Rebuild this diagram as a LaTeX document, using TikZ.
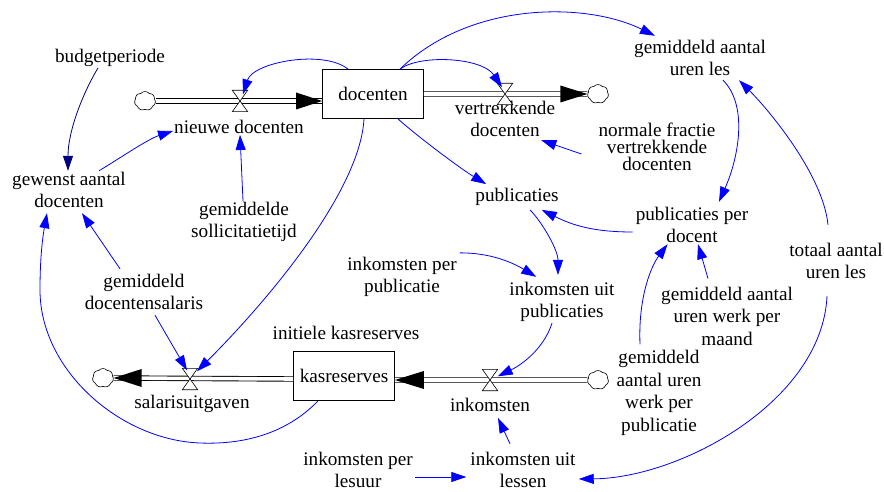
\documentclass[tikz,border=0pt]{standalone}
\usepackage{fontspec}
\setmainfont{Liberation Serif}
\usetikzlibrary{arrows.meta,shapes.symbols}
\definecolor{lnk}{RGB}{0,0,255}
\definecolor{navylnk}{RGB}{0,0,128}
\tikzset{
 lbl/.style={align=center, inner sep=1pt, font=\fontsize{19.2}{22.5}\selectfont},
 tightlbl/.style={align=center, inner sep=1pt, font=\fontsize{19.2}{17}\selectfont},
 stock/.style={draw, line width=0.8pt, fill=white, minimum width=101pt, minimum height=49pt, inner sep=0pt, font=\fontsize{19.2}{22.5}\selectfont},
 valve/.style={inner sep=0pt, minimum width=15pt, minimum height=21pt},
 valveshape/.style={draw, fill=white, line width=0.6pt, line join=miter},
 srccloud/.style={cloud, cloud puffs=7, cloud puff arc=100, aspect=1.05, draw, fill=white, line width=0.6pt, inner sep=0pt, minimum width=21pt, minimum height=19pt},
 pipe/.style={draw, line width=0.9pt, double=white, double distance=3.6pt},
 flowtip/.style={fill=black},
 link/.style={draw=lnk, line width=0.8pt, -{Triangle[length=15pt,width=10pt]}},
}
\begin{document}
\begin{tikzpicture}[x=1pt,y=-1pt]
\useasboundingbox (0,0) rectangle (884,492);
% labels
\node[lbl] (budget) at (110,58) {budgetperiode};
\node[lbl] (gewenst) at (69,190) {gewenst aantal\\docenten};
\node[lbl] (nieuwe) at (239,127) {nieuwe docenten};
\node[lbl] (sollic) at (244,222) {gemiddelde\\sollicitatietijd};
\node[lbl] (vertrek) at (505,119) {vertrekkende\\docenten};
\node[lbl] (gaul) at (700,58) {gemiddeld aantal\\uren les};
\node[tightlbl] (normale) at (657,147) {normale fractie\\vertrekkende\\docenten};
\node[lbl] (publ) at (517,197) {publicaties};
\node[lbl] (ppd) at (692,225) {publicaties per\\docent};
\node[lbl] (totaal) at (836,261) {totaal aantal\\uren les};
\node[lbl] (ipp) at (402,277) {inkomsten per\\publicatie};
\node[lbl] (iup) at (562,302) {inkomsten uit\\publicaties};
\node[lbl] (gauwpm) at (727,316) {gemiddeld aantal\\uren werk per\\maand};
\node[lbl] (gauwpp) at (659,393) {gemiddeld\\aantal uren\\werk per\\publicatie};
\node[lbl] (salaris) at (144,292) {gemiddeld\\docentensalaris};
\node[lbl] (initiele) at (346,333) {initiele kasreserves};
\node[lbl] (salu) at (192,404) {salarisuitgaven};
\node[lbl] (inkomsten) at (490,405) {inkomsten};
\node[lbl] (iul) at (523,470) {inkomsten uit\\lessen};
\node[lbl] (ipl) at (358,470) {inkomsten per\\lesuur};
% stocks, valves, clouds
\node[valve] (nv) at (240,101) {};
\node[valve] (vv) at (505,94) {};
\node[valve] (sv) at (190,379) {};
\node[valve] (iv) at (490,380) {};
\node[srccloud] (c1) at (145,101) {};
\node[srccloud] (c2) at (598,94) {};
\node[srccloud] (c3) at (103,378) {};
\node[srccloud] (c4) at (598,380) {};
\node[stock] (docenten) at (373,94) {docenten};
\node[stock] (kas) at (344,376) {kasreserves};
% pipes
\draw[pipe] (c1.east) -- (docenten.west |- c1.east);
\fill[flowtip] (docenten.west |- c1.east) -- ++(-26,-8.5) -- ++(0,17) -- cycle;
\draw[pipe] (docenten.east |- vv.center) -- (c2.west);
\fill[flowtip] (c2.west) -- ++(-27,-8.5) -- ++(0,17) -- cycle;
\draw[pipe] (kas.west |- sv.center) -- (c3.east);
\fill[flowtip] (c3.east) -- ++(28,-9) -- ++(0,18) -- cycle;
\draw[pipe] (c4.west) -- (kas.east |- iv.center);
\fill[flowtip] (kas.east |- iv.center) -- ++(29,-9) -- ++(0,18) -- cycle;
\foreach \v in {nv,vv,sv,iv}
  \draw[valveshape] (\v.north west) -- (\v.north east) -- (\v.south west) -- (\v.south east) -- cycle;
% links
\draw[link, draw=navylnk] ([xshift=-12pt]budget.south) .. controls +(-15,25) and +(0,-40) .. ([xshift=-1pt]gewenst.north);
\draw[link] ([xshift=-28pt]gewenst.north east) .. controls +(20,-12) and +(-25,8) .. ([yshift=-4pt]nieuwe.west);
\draw[link] ([xshift=-1pt]sollic.north) -- ([xshift=1pt]nieuwe.south);
\draw[link] ([xshift=-25pt]docenten.north) .. controls +(-25,-20) and +(10,-32) .. ([xshift=3pt,yshift=-4pt]nv.north);
\draw[link] ([xshift=27pt]docenten.north) .. controls +(20,-15) and +(-20,-30) .. ([xshift=-3pt,yshift=-4pt]vv.north);
\draw[link] ([xshift=27pt]docenten.north) .. controls +(70,-68) and +(-69,-34) .. ([xshift=22pt,yshift=3pt]gaul.north west);
\draw[link] ([xshift=25pt]docenten.south) .. controls +(20,18) and +(-25,-15) .. ([xshift=12pt,yshift=3pt]publ.north west);
\draw[link] ([xshift=-9pt]docenten.south) .. controls +(-4,72) and +(72,-72) .. ([xshift=7pt,yshift=-3pt]sv.north);
\draw[link] ([xshift=-16pt,yshift=-7pt]normale.west) -- ([xshift=-15pt,yshift=-2pt]vertrek.south east);
\draw[link] ([xshift=23pt,yshift=-3pt]gaul.south) .. controls +(25,25) and +(20,-45) .. ([xshift=27pt,yshift=4pt]ppd.north);
\draw[link] ([xshift=-8pt,yshift=17pt]totaal.north) .. controls +(-5,-50) and +(30,30) .. ([xshift=-28pt,yshift=-3pt]gaul.south east);
\draw[link] ([xshift=-9pt,yshift=-16pt]totaal.south) .. controls +(-5,105) and +(102,-1) .. ([xshift=2pt,yshift=-9pt]iul.east);
\draw[link] ([xshift=-2pt,yshift=-7pt]ppd.west) .. controls +(-40,0) and +(30,15) .. ([xshift=-18pt,yshift=-3pt]publ.south east);
\draw[link] ([xshift=13pt,yshift=-3pt]publ.south) .. controls +(12,12) and +(0,-25) .. ([xshift=-4pt,yshift=6pt]iup.north);
\draw[link] ([xshift=2pt,yshift=3pt]ipp.north east) .. controls +(30,0) and +(-25,-15) .. ([xshift=28pt,yshift=4pt]iup.north west);
\draw[link] ([xshift=-10pt]iup.south) .. controls +(-8,25) and +(25,-12) .. ([yshift=-7pt]iv.north east);
\draw[link] ([xshift=-19pt,yshift=7pt]gauwpm.north) -- ([xshift=6pt]ppd.south);
\draw[link] ([xshift=-19pt,yshift=5pt]gauwpp.north) .. controls +(-2,-50) and +(-15,20) .. ([xshift=33pt]ppd.south west);
\draw[link] ([xshift=-13pt,yshift=7pt]iul.north) -- ([xshift=8pt,yshift=-5pt]inkomsten.south);
\draw[link] ([xshift=1pt,yshift=-7pt]ipl.east) -- ([xshift=-3pt,yshift=-7pt]iul.west);
\draw[link] ([xshift=11pt,yshift=-4pt]salaris.south) -- ([xshift=-3pt,yshift=-2pt]sv.north);
\draw[link] ([xshift=-24pt,yshift=4pt]salaris.north) -- ([xshift=13pt,yshift=-4pt]gewenst.south);
\draw[link] ([xshift=-26pt]kas.south) .. controls (290,430) and (250,445) .. (200,443) .. controls (120,440) and (40,370) .. (40,290) .. controls (40,250) and (44,230) .. ([xshift=-22pt,yshift=-4pt]gewenst.south);
\end{tikzpicture}
\end{document}
